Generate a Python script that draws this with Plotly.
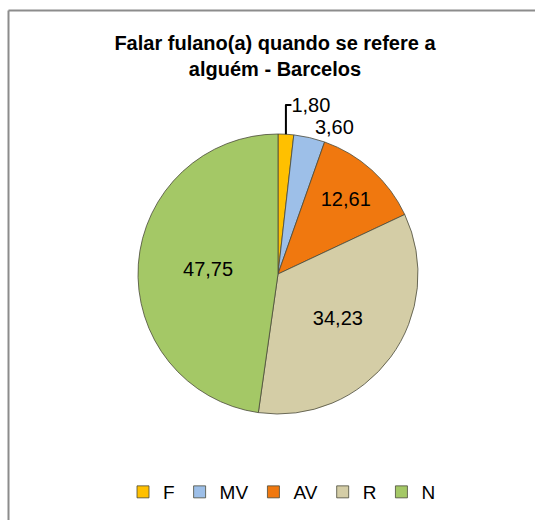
import plotly.graph_objects as go

categories = ["F", "MV", "AV", "R", "N"]
values = [1.80, 3.60, 12.61, 34.23, 47.75]
colors = ["#FFC000", "#9DBFE8", "#F0780F", "#D4CDA6", "#A4C866"]
text_positions = ["outside", "outside", "inside", "inside", "inside"]

W, H = 535, 520
cx, cy, r = 278, 274, 140

fig = go.Figure(go.Pie(
    labels=categories,
    values=values,
    sort=False,
    direction="clockwise",
    rotation=0,
    marker=dict(colors=colors, line=dict(color="#4a4a3a", width=0.8)),
    texttemplate="%{value:.2f}",
    textposition=text_positions,
    insidetextorientation="horizontal",
    textfont=dict(family="Liberation Sans, Arial", size=20, color="#000000"),
    domain=dict(x=[(cx - r) / W, (cx + r) / W], y=[1 - (cy + r) / H, 1 - (cy - r) / H]),
    hoverinfo="label+value",
    showlegend=True,
))

fig.update_layout(
    width=W, height=H,
    margin=dict(l=0, r=0, t=0, b=0),
    paper_bgcolor="white",
    separators=",.",
    title=dict(
        text="<b>Falar fulano(a) quando se refere a<br>alguém - Barcelos</b>",
        x=275 / W, xanchor="center", y=1 - 50 / H, yanchor="middle",
        font=dict(family="Liberation Sans, Arial", size=20, color="#000000"),
    ),
    legend=dict(
        orientation="h", x=282 / W, xanchor="center", y=1 - 492 / H, yanchor="middle",
        font=dict(family="Liberation Sans, Arial", size=19, color="#000000"),
        itemwidth=30, tracegroupgap=0,
    ),
    shapes=[
        dict(type="line", xref="paper", yref="paper", x0=8.5 / W, x1=1, y0=1 - 10.5 / H, y1=1 - 10.5 / H,
             line=dict(color="#8c8c8c", width=2)),
        dict(type="line", xref="paper", yref="paper", x0=8.5 / W, x1=8.5 / W, y0=0, y1=1 - 10.5 / H,
             line=dict(color="#8c8c8c", width=2)),
    ],
)

fig.write_html(
    "out.html",
    config={"displayModeBar": False},
    post_script="document.body.style.margin='0';document.body.style.overflow='hidden';",
)
